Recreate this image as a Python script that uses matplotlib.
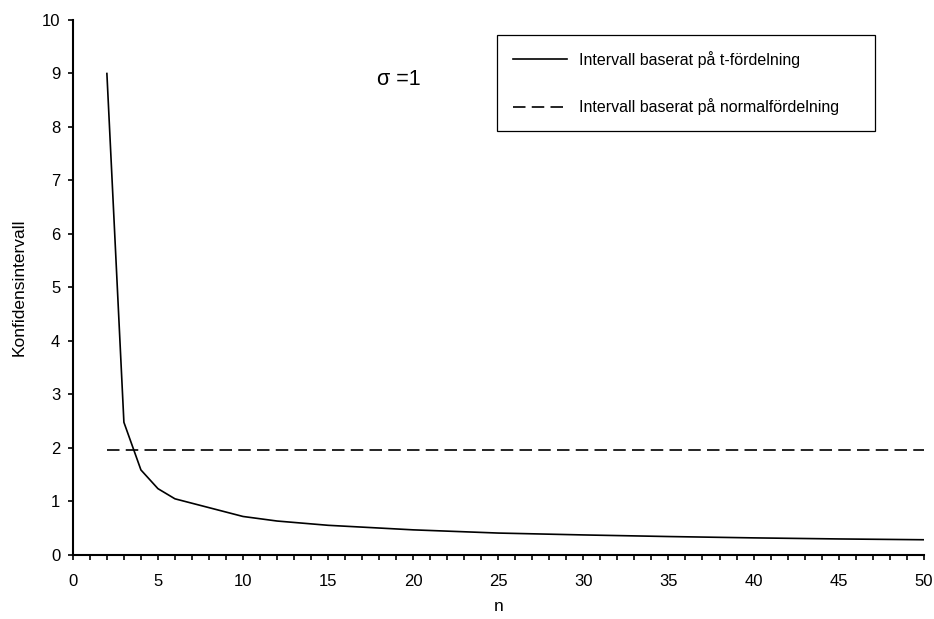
import numpy as np
import matplotlib
matplotlib.use("Agg")
import matplotlib.pyplot as plt
from matplotlib.ticker import MultipleLocator

plt.rcParams['font.family'] = ['Liberation Sans', 'DejaVu Sans']

# konfidensintervall mot stickprovsstorlek
n = [2, 3, 4, 5, 6, 10, 12, 15, 20, 25, 30, 35, 40, 45, 50]
t_intervall = [9.0, 2.48, 1.59, 1.24, 1.05, 0.72, 0.635, 0.555, 0.47, 0.41, 0.375, 0.345, 0.32, 0.30, 0.285]
n_norm = [2, 50]
norm_intervall = [1.96, 1.96]

fig = plt.figure(figsize=(9.34, 6.19), dpi=100)
ax = fig.add_axes([0.078, 0.1034, 0.911, 0.8643])

ax.plot(n, t_intervall, color='black', lw=1.2, label='Intervall baserat på t-fördelning')
ax.plot(n_norm, norm_intervall, color='black', lw=1.2, linestyle=(0, (7.5, 3.75)),
        label='Intervall baserat på normalfördelning')

ax.set_xlim(0, 50)
ax.set_ylim(0, 10)
ax.xaxis.set_major_locator(MultipleLocator(5))
ax.xaxis.set_minor_locator(MultipleLocator(1))
ax.yaxis.set_major_locator(MultipleLocator(1))
ax.tick_params(axis='both', which='both', direction='out', width=1.2, length=3.6, labelsize=12)
ax.tick_params(axis='x', which='major', pad=10)
ax.tick_params(axis='y', which='major', pad=5.5)
for s in ['top', 'right']:
    ax.spines[s].set_visible(False)
for s in ['left', 'bottom']:
    ax.spines[s].set_linewidth(1.5)

ax.set_xlabel('n', fontsize=12.5, labelpad=7)
ax.set_ylabel('Konfidensintervall', fontsize=12.5, labelpad=11)

ax.text(17.9, 8.88, 'σ =1', fontsize=15.5, va='center')

leg = ax.legend(loc='upper left', bbox_to_anchor=(0.498, 0.972, 0.445, 0.0), mode='expand',
                fancybox=False, framealpha=1, edgecolor='black', fontsize=11.5,
                handlelength=3.4, handletextpad=0.75, labelspacing=1.9, borderpad=1.0,
                borderaxespad=0)
leg.get_frame().set_linewidth(0.9)

fig.savefig('out.png', dpi=100)
